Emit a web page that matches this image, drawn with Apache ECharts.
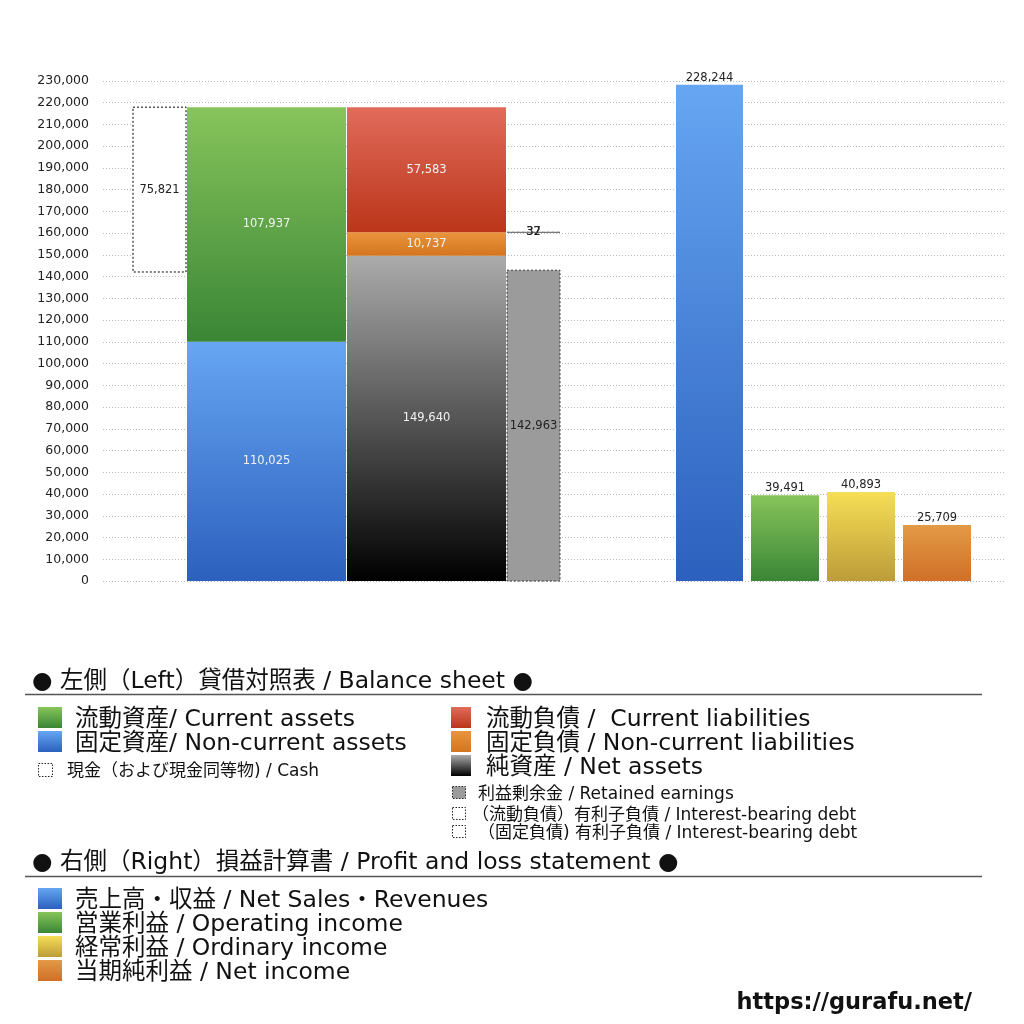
<!DOCTYPE html>
<html>
<head>
<meta charset="utf-8">
<script src="https://cdn.jsdelivr.net/npm/echarts@6/dist/echarts.min.js"></script>
<style>html,body{margin:0;padding:0;background:#fff}#c{width:1024px;height:1024px}</style>
</head>
<body>
<div id="c"></div>
<script>
// ---- data ----
const assetNames = ['流動資産', '固定資産'];
const assetValues = [107937, 110025];            // current, non-current
const liabilityNames = ['流動負債', '固定負債', '純資産'];
const liabilityValues = [57583, 10737, 149640];  // current, non-current, net assets
const cashValue = 75821;
const retainedEarnings = 142963;
const interestBearingDebt = [32, 37];            // current, non-current
const plNames = ['売上高・収益', '営業利益', '経常利益', '当期純利益'];
const plValues = [228244, 39491, 40893, 25709];
const yMin = 0, yMax = 230000, yStep = 10000;

// ---- layout (x in hidden axis units) ----
const L = {
  cash: [30, 83], assets: [84, 243], liab: [244, 403], side: [404, 457],
  pl: [[573, 640], [648, 716], [724, 792], [800, 868]]
};
const grad = (a, b) => new echarts.graphic.LinearGradient(0, 0, 0, 1, [{offset: 0, color: a}, {offset: 1, color: b}]);
const C = {
  green: ['#87c45b', '#3a8636'], blue: ['#66a6f2', '#2c60be'], red: ['#e16b5b', '#bb3519'],
  orange: ['#e9953d', '#d5741f'], gray: ['#ababab', '#000000'], yellow: ['#f6de55', '#bd9c39'],
  orange2: ['#e39a45', '#d06f28']
};
const fmt = v => v.toLocaleString('en-US');
const NUMF = '"DejaVu Sans", sans-serif';

// ---- build marks from data ----
const marks = [];
const totalAssets = assetValues[0] + assetValues[1];
marks.push({x: L.cash, y0: totalAssets - cashValue, y1: totalAssets, fill: '#fff', stroke: '#000', dash: [2, 2], label: fmt(cashValue), lpos: 'in', lcol: '#222'});
marks.push({x: L.assets, y0: 0, y1: assetValues[1], fill: grad(...C.blue), label: fmt(assetValues[1]), lpos: 'in', lcol: '#f2f2f2'});
marks.push({x: L.assets, y0: assetValues[1], y1: totalAssets, fill: grad(...C.green), label: fmt(assetValues[0]), lpos: 'in', lcol: '#f2f2f2'});
const na = liabilityValues[2], ncl = liabilityValues[1], cl = liabilityValues[0];
marks.push({x: L.liab, y0: 0, y1: na, fill: grad(...C.gray), label: fmt(na), lpos: 'in', lcol: '#f2f2f2'});
marks.push({x: L.liab, y0: na, y1: na + ncl, fill: grad(...C.orange), label: fmt(ncl), lpos: 'in', lcol: '#f2f2f2'});
marks.push({x: L.liab, y0: na + ncl, y1: na + ncl + cl, fill: grad(...C.red), label: fmt(cl), lpos: 'in', lcol: '#f2f2f2'});
marks.push({x: L.side, y0: 0, y1: retainedEarnings, fill: '#9b9b9b', stroke: '#333', dash: [2, 2], label: fmt(retainedEarnings), lpos: 'in', lcol: '#222'});
const bnd = na + ncl;
marks.push({x: L.side, y0: bnd, y1: bnd + interestBearingDebt[0], fill: 'rgba(255,255,255,0)', stroke: '#777', dash: [3, 2], label: fmt(interestBearingDebt[0]), lpos: 'in', lcol: '#222'});
marks.push({x: L.side, y0: bnd - interestBearingDebt[1], y1: bnd, fill: 'rgba(255,255,255,0)', stroke: '#777', dash: [3, 2], label: fmt(interestBearingDebt[1]), lpos: 'in', lcol: '#222'});
const plColors = [C.blue, C.green, C.yellow, C.orange2];
plValues.forEach((v, i) => marks.push({x: L.pl[i], y0: 0, y1: v, fill: grad(...plColors[i]), label: fmt(v), lpos: 'top', lcol: '#222'}));

const data = marks.map(m => [m.x[0], m.x[1], m.y0, m.y1]);

function renderItem(params, api) {
  const m = marks[params.dataIndex];
  const p0 = api.coord([api.value(0), api.value(3)]);
  const p1 = api.coord([api.value(1), api.value(2)]);
  const x = p0[0], y = p0[1], w = p1[0] - p0[0], h = Math.max(p1[1] - p0[1], 0.01);
  const children = [{
    type: 'rect', shape: {x, y, width: w, height: h},
    style: {fill: m.fill, stroke: m.stroke || null, lineWidth: m.stroke ? 1 : 0, lineDash: m.dash || null}
  }];
  const tx = x + w / 2, ty = m.lpos === 'top' ? y - 7 : y + h / 2;
  children.push({
    type: 'text',
    style: {text: m.label, x: tx, y: ty, align: 'center', verticalAlign: 'middle', fill: m.lcol, font: '11.5px ' + NUMF}
  });
  return {type: 'group', children};
}

// ---- legend graphics ----
const F = '"DejaVu Sans", "Noto Sans CJK JP", sans-serif';
const g = [];
const txt = (text, x, y, size, opts) => g.push({type: 'text', style: {text, x, y: y + 2, font: (opts && opts.bold ? 'bold ' : '') + size + 'px ' + ((opts && opts.font) || F), fill: '#111', verticalAlign: 'middle', align: (opts && opts.align) || 'left'}});
const sq = (x, y, w, h, fill, dash) => g.push({type: 'rect', shape: {x, y, width: w, height: h}, style: {fill, stroke: dash ? '#222' : null, lineWidth: dash ? 1 : 0, lineDash: dash ? [1.5, 1.5] : null}});
const hline = (y) => g.push({type: 'line', shape: {x1: 25, y1: y, x2: 982, y2: y}, style: {stroke: '#555', lineWidth: 1.5}});

const BIG = 23.5, SMALL = 17;
txt('● 左側（Left）貸借対照表 / Balance sheet ●', 32, 680, BIG);
hline(694.5);
sq(38, 707, 24, 21, grad(...C.green)); txt('流動資産/ Current assets', 75, 718, BIG);
sq(38, 731, 24, 21, grad(...C.blue)); txt('固定資産/ Non-current assets', 75, 742, BIG);
sq(38.5, 763.5, 14, 13, '#fff', true); txt('現金（および現金同等物) / Cash', 67, 770, SMALL);
sq(451, 707, 20, 21, grad(...C.red)); txt('流動負債 /  Current liabilities', 486, 718, BIG);
sq(451, 731, 20, 21, grad(...C.orange)); txt('固定負債 / Non-current liabilities', 486, 742, BIG);
sq(451, 755, 20, 21, grad(...C.gray)); txt('純資産 / Net assets', 486, 766, BIG);
sq(452.5, 786.5, 13, 12, '#9b9b9b', true); txt('利益剰余金 / Retained earnings', 478, 793, SMALL);
sq(452.5, 807.5, 13, 12, '#fff', true); txt('（流動負債）有利子負債 / Interest-bearing debt', 472, 814, SMALL);
sq(452.5, 825.5, 13, 12, '#fff', true); txt('（固定負債) 有利子負債 / Interest-bearing debt', 478, 832, SMALL);

txt('● 右側（Right）損益計算書 / Profit and loss statement ●', 32, 861, BIG);
hline(876.5);
sq(38, 888, 24, 21, grad(...C.blue)); txt('売上高・収益 / Net Sales・Revenues', 75, 899, BIG);
sq(38, 912, 24, 21, grad(...C.green)); txt('営業利益 / Operating income', 75, 923, BIG);
sq(38, 936, 24, 21, grad(...C.yellow)); txt('経常利益 / Ordinary income', 75, 947, BIG);
sq(38, 960, 24, 21, grad(...C.orange2)); txt('当期純利益 / Net income', 75, 971, BIG);
txt('https://gurafu.net/', 972, 1001, 22.5, {bold: true, align: 'right', font: '"DejaVu Sans", sans-serif'});

const chart = echarts.init(document.getElementById('c'), null, {renderer: 'canvas'});
chart.setOption({
  animation: false,
  backgroundColor: '#fff',
  grid: {left: 103, right: 19, top: 81, bottom: 443},
  xAxis: {type: 'value', min: 0, max: 902, show: false},
  yAxis: {
    type: 'value', min: yMin, max: yMax, interval: yStep,
    axisLine: {show: false}, axisTick: {show: false},
    axisLabel: {color: '#222', fontSize: 12.5, margin: 14, fontFamily: NUMF, formatter: v => fmt(v)},
    splitLine: {lineStyle: {color: '#bbb', type: [1, 2], width: 1}}
  },
  series: [{type: 'custom', renderItem, data, encode: {x: [0, 1], y: [2, 3]}, clip: false}],
  graphic: g
});
</script>
</body>
</html>
